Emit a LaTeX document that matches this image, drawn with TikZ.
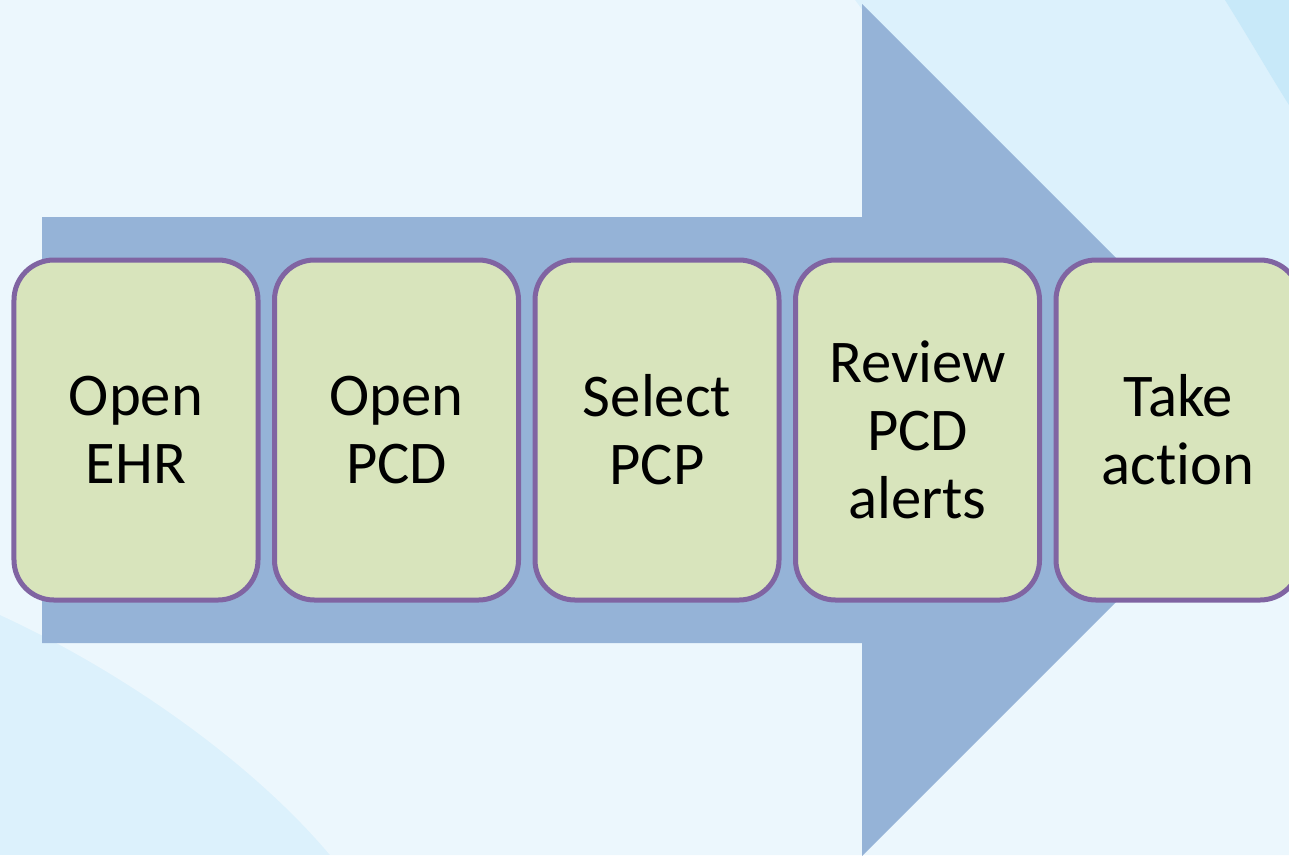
\documentclass[tikz,border=0pt]{standalone}
\usepackage{fontspec}
\setmainfont{Carlito}[Ligatures=NoCommon]
\usetikzlibrary{positioning}
\definecolor{bglight}{RGB}{236,247,253}
\definecolor{bgmid}{RGB}{220,241,252}
\definecolor{bgdark}{RGB}{200,233,249}
\definecolor{arrowblue}{RGB}{149,179,215}
\definecolor{boxgreen}{RGB}{216,228,188}
\definecolor{boxpurple}{RGB}{128,100,162}

\begin{document}
\begin{tikzpicture}[x=0.2mm,y=-0.2mm,node distance=2.3mm,
    stepbox/.style={draw=boxpurple,fill=boxgreen,line width=1mm,rounded corners=8mm,
      minimum width=48.8mm,minimum height=68mm,align=center,inner sep=0pt,
      font=\fontsize{34.5}{38.8}\selectfont}]
    \path[use as bounding box,clip] (0,0) rectangle (1289,855);
    \fill[bgmid] (0,0) rectangle (1289,855);
    \fill[bglight] (0,0) -- (855,0) .. controls (1000,200) and (1150,420) .. (1289,540) -- (1289,855) -- (330,855) .. controls (250,760) and (120,670) .. (0,615) -- cycle;
    \fill[bgdark] (1225,0) .. controls (1250,40) and (1270,75) .. (1289,105) -- (1289,0) -- cycle;
    \fill[arrowblue] (42,217) -- (862,217) -- (862,4) -- (1288,430) -- (862,856) -- (862,643) -- (42,643) -- cycle;
    \node[stepbox] (ehr) at (136,430) {Open\\EHR};
    \node[stepbox,right=of ehr] (pcd) {Open\\PCD};
    \node[stepbox,right=of pcd] (pcp) {Select\\PCP};
    \node[stepbox,right=of pcp] (alerts) {Review\\PCD\\alerts};
    \node[stepbox,right=of alerts] (action) {Take\\action};
  \end{tikzpicture}
\end{document}
